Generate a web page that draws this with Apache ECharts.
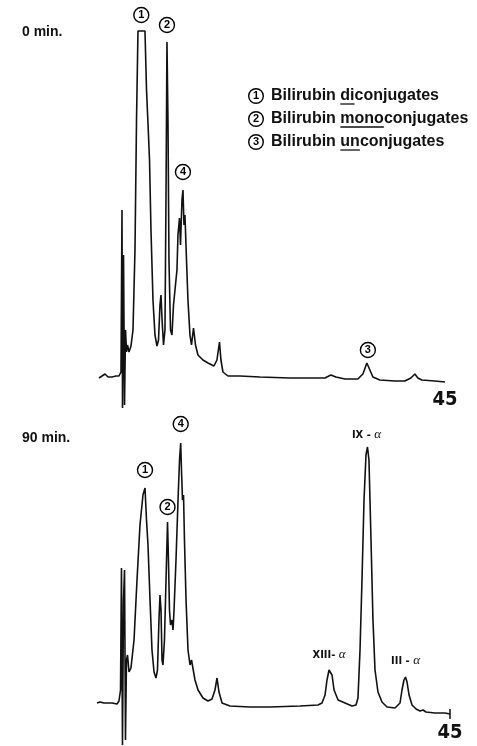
<!DOCTYPE html>
<html>
<head>
<meta charset="utf-8">
<script src="https://cdn.jsdelivr.net/npm/echarts@6/dist/echarts.min.js"></script>
<style>
html,body{margin:0;padding:0;background:#fff;}
#chart{width:477px;height:746px;}
</style>
</head>
<body>
<div id="chart"></div>
<script>
// ---- data (retention time in minutes, detector signal in arbitrary units) ----
const topTime = [0,0.39,0.78,1.17,1.69,2.21,2.6,2.86,2.99,3.06,3.19,3.32,3.45,3.58,3.71,3.9,4.16,4.42,4.68,4.88,5.07,5.98,6.18,6.37,6.57,6.76,7.02,7.28,7.54,7.74,7.93,8.06,8.19,8.39,8.58,8.71,8.84,8.97,9.1,9.3,9.49,9.69,9.88,10.14,10.27,10.47,10.6,10.79,10.92,11.05,11.18,11.38,11.57,11.83,12.03,12.29,12.55,12.87,13.52,14.17,14.95,15.34,15.67,15.86,16.12,16.77,18.33,20.93,24.83,27.43,29.38,30.16,30.81,31.98,33.67,34.32,34.84,35.23,35.62,36.53,38.48,39.78,40.56,41.08,41.47,41.99,43.68,45];
const topSignal = [30,32,34,31,31,32,32,36,198,0,153,3,78,56,63,56,62,78,158,288,377,377,318,285,248,178,108,73,62,68,103,113,90,63,78,208,366,288,148,78,73,103,118,138,173,190,163,208,218,183,193,148,108,73,63,80,63,53,48,45,42,48,66,48,36,32,32,31,30,30,30,33,31,29,29,34,45,38,31,28,27,27,30,34,30,28,27,26];

const bottomTime = [0,0.38,0.89,1.4,1.91,2.55,2.8,3.0,3.12,3.25,3.38,3.51,3.63,3.76,3.89,4.08,4.33,4.72,5.1,5.48,5.86,6.12,6.31,6.5,6.76,7.01,7.27,7.52,7.71,7.9,8.03,8.16,8.29,8.41,8.6,8.8,8.99,9.11,9.24,9.37,9.56,9.69,9.82,10.07,10.33,10.52,10.67,10.77,10.9,11.03,11.15,11.35,11.6,11.86,12.05,12.24,12.49,12.88,13.51,14.15,14.66,15.04,15.3,15.55,15.94,16.95,19.5,22.05,25.88,28.17,28.68,29.07,29.32,29.58,29.71,29.96,30.22,30.73,31.62,32.51,33.02,33.27,33.53,33.78,34.04,34.29,34.48,34.67,34.93,35.18,35.44,35.82,36.33,36.97,37.99,38.63,38.88,39.13,39.33,39.52,39.78,40.16,40.67,41.18,41.56,41.94,43.09,44.36,45];
const bottomSignal = [43,44,43,43,43,42,45,56,178,1,146,176,6,86,91,74,78,106,166,221,251,258,226,201,146,96,74,68,76,126,151,136,86,81,106,166,224,186,136,121,126,116,136,186,246,286,303,276,246,251,206,146,96,81,86,88,66,56,48,45,47,56,68,54,43,40,39,39,40,41,43,51,66,76,78,71,56,46,43,40,41,48,96,166,246,291,299,286,206,126,76,54,44,39,38,43,56,66,69,64,51,41,37,35,36,34,33,33,32];

const xTickLabels = ['45'];
const panelTitles = ['0 min.', '90 min.'];
const topPeakLabels = ['1', '2', '4', '3'];
const topPeakCoords = [[5.5, 377], [8.84, 366], [10.92, 218], [34.84, 45]];
const bottomPeakLabels = ['1', '2', '4'];
const bottomPeakCoords = [[6.12, 258], [8.99, 224], [10.67, 303]];
const isomerLabels = ['XIII- ', 'IX - ', 'III - '];
const isomerCoords = [[29.71, 78], [34.48, 299], [39.33, 69]];
const legendNumbers = ['1', '2', '3'];
const legendPrefix = ['Bilirubin ', 'Bilirubin ', 'Bilirubin '];
const legendUnderlined = ['di', 'mono', 'un'];
const legendSuffix = ['conjugates', 'conjugates', 'conjugates'];

// ---- build ----
const zip = (a, b) => a.map((v, i) => [v, b[i]]);
const chart = echarts.init(document.getElementById('chart'), null, {renderer: 'canvas'});

const circleMark = (labels, coords, offsets) => labels.map((l, i) => ({
  name: l, coord: coords[i],
  symbol: 'circle', symbolSize: 15, symbolOffset: offsets[i],
  itemStyle: {color: '#fff', borderColor: '#000', borderWidth: 1.4},
  label: {show: true, position: 'inside', formatter: l, color: '#000', fontWeight: 'bold', fontSize: 11, fontFamily: 'Liberation Sans'}
}));

const isoOffsets = [[-1, -13], [-1, -12], [0, -16]];
const isoMarks = isomerLabels.map((l, i) => ({
  name: l, coord: isomerCoords[i],
  symbol: 'circle', symbolSize: 1, symbolOffset: isoOffsets[i],
  itemStyle: {color: 'rgba(0,0,0,0)'},
  label: {show: true, position: 'inside', formatter: '{r|' + l + '}{a|α}',
    rich: {r: {fontFamily: '"Liberation Sans Narrow", "DejaVu Sans Condensed"', fontWeight: 'bold', fontSize: 11, color: '#111'},
           a: {fontFamily: 'Liberation Serif', fontStyle: 'italic', fontSize: 13, color: '#111'}}}
}));

const xAxisBase = (offset) => ({
  type: 'value', min: 0, max: 45, interval: 45,
  axisLine: {show: false}, axisTick: {show: false}, splitLine: {show: false},
  offset: offset,
  axisLabel: {show: true, margin: 0, formatter: v => v === 45 ? xTickLabels[0] : '',
    fontFamily: '"Liberation Sans Narrow", "DejaVu Sans Condensed"', fontWeight: 'bold', fontSize: 20, color: '#111'}
});
const yAxisBase = (max) => ({type: 'value', min: 0, max: max, show: false, splitLine: {show: false}});

const lineStyle = {color: '#111', width: 1.6};

const legendY = [96, 119, 142];
const legendX = 271;
const legendGraphics = [];
const ctx = document.createElement('canvas').getContext('2d');
const legendFont = 'bold 16px "Liberation Sans"';
ctx.font = legendFont;
legendNumbers.forEach((n, i) => {
  const y = legendY[i];
  legendGraphics.push({type: 'circle', shape: {cx: 256, cy: y, r: 7.3}, style: {fill: '#fff', stroke: '#000', lineWidth: 1.4}});
  legendGraphics.push({type: 'text', x: 256, y: y, style: {text: n, fontFamily: 'Liberation Sans', fontWeight: 'bold', fontSize: 11, fill: '#000', align: 'center', verticalAlign: 'middle'}});
  const full = legendPrefix[i] + legendUnderlined[i] + legendSuffix[i];
  legendGraphics.push({type: 'text', x: legendX, y: y, style: {text: full, font: legendFont, fill: '#111', align: 'left', verticalAlign: 'middle'}});
  const x0 = legendX + ctx.measureText(legendPrefix[i]).width;
  const w = ctx.measureText(legendUnderlined[i]).width;
  legendGraphics.push({type: 'line', shape: {x1: x0, y1: y + 8, x2: x0 + w, y2: y + 8}, style: {stroke: '#111', lineWidth: 1.3}});
});

const option = {
  animation: false,
  backgroundColor: '#fff',
  grid: [
    {left: 99, right: 32, top: 0, height: 408},
    {left: 97, right: 27, top: 410, bottom: 0}
  ],
  xAxis: [Object.assign({gridIndex: 0}, xAxisBase(-18)), Object.assign({gridIndex: 1}, xAxisBase(-23))],
  yAxis: [Object.assign({gridIndex: 0}, yAxisBase(408)), Object.assign({gridIndex: 1}, yAxisBase(336))],
  series: [
    {type: 'line', xAxisIndex: 0, yAxisIndex: 0, data: zip(topTime, topSignal), showSymbol: false, symbol: 'none', lineStyle: lineStyle, clip: false,
     markPoint: {silent: true, data: circleMark(topPeakLabels, topPeakCoords, [[0, -16], [0, -17], [0, -18], [1, -13]])}},
    {type: 'line', xAxisIndex: 1, yAxisIndex: 1, data: zip(bottomTime, bottomSignal), showSymbol: false, symbol: 'none', lineStyle: lineStyle, clip: false,
     markPoint: {silent: true, data: circleMark(bottomPeakLabels, bottomPeakCoords, [[0, -18], [0, -15], [0, -19]]).concat(isoMarks)},
     markLine: {silent: true, symbol: 'none', label: {show: false}, lineStyle: {color: '#111', width: 1.5, type: 'solid'},
       data: [[{coord: [45, 37]}, {coord: [45, 27]}]]}}
  ],
  graphic: [
    {type: 'text', left: 22, top: 25, style: {text: panelTitles[0], fontFamily: 'Liberation Sans', fontWeight: 'bold', fontSize: 14, fill: '#111'}},
    {type: 'text', left: 22, top: 431, style: {text: panelTitles[1], fontFamily: 'Liberation Sans', fontWeight: 'bold', fontSize: 14, fill: '#111'}}
  ].concat(legendGraphics)
};
chart.setOption(option);
</script>
</body>
</html>
